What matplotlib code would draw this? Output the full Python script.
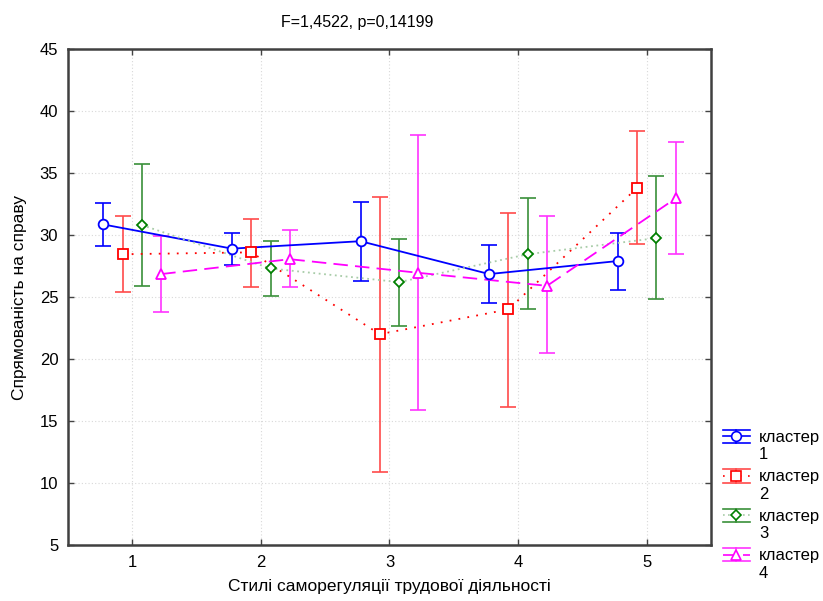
import numpy as np
import matplotlib.pyplot as plt
from matplotlib.lines import Line2D
from matplotlib.legend_handler import HandlerBase

plt.rcParams['font.family'] = ['Liberation Sans', 'DejaVu Sans']

styles_x = [1, 2, 3, 4, 5]
clusters = ['кластер\n1', 'кластер\n2', 'кластер\n3', 'кластер\n4']

# means and confidence limits
c1_mean = [30.85, 28.9, 29.5, 26.85, 27.9]
c1_low = [29.1, 27.55, 26.3, 24.5, 25.55]
c1_high = [32.55, 30.2, 32.65, 29.2, 30.2]

c2_mean = [28.45, 28.6, 22.0, 24.0, 33.8]
c2_low = [25.4, 25.8, 10.9, 16.15, 29.3]
c2_high = [31.5, 31.3, 33.1, 31.8, 38.35]

c3_mean = [30.8, 27.3, 26.2, 28.45, 29.75]
c3_low = [25.85, 25.1, 22.7, 24.0, 24.85]
c3_high = [35.75, 29.5, 29.7, 33.0, 34.75]

c4_mean = [26.85, 28.05, 26.95, 25.9, 32.95]
c4_low = [23.8, 25.8, 15.9, 20.45, 28.45]
c4_high = [29.95, 30.4, 38.05, 31.55, 37.5]

means = [c1_mean, c2_mean, c3_mean, c4_mean]
lows = [c1_low, c2_low, c3_low, c4_low]
highs = [c1_high, c2_high, c3_high, c4_high]

offsets = [-0.225, -0.075, 0.075, 0.225]
line_col = ['#0000ff', '#ff0000', '#a8cca8', '#ff00ff']
mark_col = ['#0000ff', '#ff0000', '#008000', '#ff00ff']
err_col = ['#0000ff', '#ff4a4a', '#3a903a', '#ff33ff']
line_sty = ['-', (0, (1, 4)), (0, (1, 2)), (0, (8, 4))]
markers = ['o', 's', 'D', '^']
msizes = [7, 7, 5, 7]

fig = plt.figure(figsize=(8.23, 6.01), dpi=100)
ax = fig.add_axes([68/823, 1-545/601, (711-68)/823, (545-49)/601])

for i in range(4):
    x = np.array(styles_x) + offsets[i]
    m = np.array(means[i])
    lo = m - np.array(lows[i])
    hi = np.array(highs[i]) - m
    ax.errorbar(x, m, yerr=[lo, hi], fmt='none', ecolor=err_col[i],
                elinewidth=1.2, capsize=6, capthick=1.2, zorder=2)
    ax.plot(x, m, color=line_col[i], linestyle=line_sty[i], lw=1.3, zorder=3)
    ax.plot(x, m, linestyle='none', marker=markers[i], ms=msizes[i],
            mfc='white', mec=mark_col[i], mew=1.3, zorder=4)

ax.set_xlim(0.5, 5.5)
ax.set_ylim(5, 45)
ax.set_xticks(styles_x)
ax.set_yticks(np.arange(5, 46, 5))
ax.tick_params(direction='in', top=True, right=True, labelsize=12,
               length=4, width=1, color='#444444', pad=7)
ax.grid(True, linestyle=(0, (1, 2)), color='#d8d8d8', lw=0.8)
ax.set_axisbelow(True)
for s in ax.spines.values():
    s.set_linewidth(1.8)
    s.set_color('#404040')

ax.set_xlabel('Стилі саморегуляції трудової діяльності', fontsize=12.5, labelpad=7)
ax.set_ylabel('Спрямованість на справу', fontsize=12.5, labelpad=9)
fig.text(357/823, 1-22/601, 'F=1,4522, p=0,14199', ha='center', va='center',
         fontsize=11.5)


class ErrHandler(HandlerBase):
    def __init__(self, color, ecolor, ls, marker, ms, mcol):
        super().__init__()
        self.c = color
        self.ec = ecolor
        self.ls = ls
        self.marker = marker
        self.ms = ms
        self.mcol = mcol

    def create_artists(self, legend, orig_handle, xdescent, ydescent,
                       width, height, fontsize, trans):
        # put the symbol next to the first text line
        y0 = height / 2 - ydescent + 0.6 * fontsize
        h = 0.4 * fontsize
        x0, x1 = -xdescent, width - xdescent
        arts = []
        for dy in (-h, h):
            arts.append(Line2D([x0, x1], [y0 + dy, y0 + dy],
                               color=self.ec, lw=1.2, transform=trans))
        arts.append(Line2D([(x0 + x1) / 2] * 2, [y0 - h, y0 + h],
                           color=self.ec, lw=1.2, transform=trans))
        arts.append(Line2D([x0, x1], [y0, y0],
                           color=self.c, ls=self.ls, lw=1.2, transform=trans))
        arts.append(Line2D([(x0 + x1) / 2], [y0], marker=self.marker,
                           ms=self.ms, mfc='white', mec=self.mcol, mew=1.2,
                           ls='none', transform=trans))
        return arts


handles = [Line2D([], []) for _ in range(4)]
hmap = {handles[i]: ErrHandler(line_col[i], err_col[i], line_sty[i], markers[i],
                               msizes[i], mark_col[i]) for i in range(4)}
fig.legend(handles, clusters, handler_map=hmap, loc='upper left',
           bbox_to_anchor=(723/823, 1-430/601), frameon=False, fontsize=12,
           handlelength=1.6, handleheight=1.0, handletextpad=0.55,
           labelspacing=0.42, borderpad=0, borderaxespad=0)

fig.savefig('out.png', dpi=100)
